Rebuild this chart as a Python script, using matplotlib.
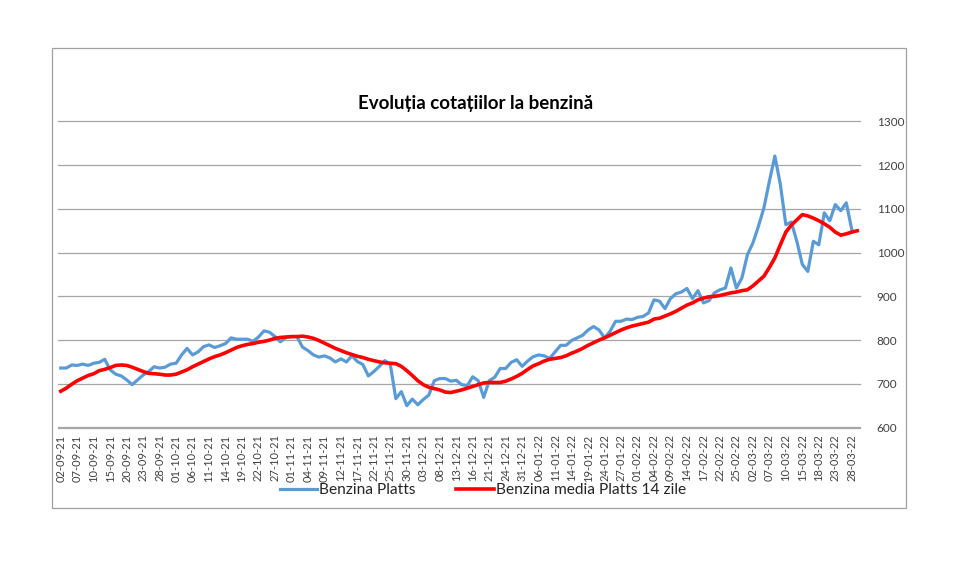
import numpy as np
import matplotlib
matplotlib.use("Agg")
import matplotlib.pyplot as plt
from matplotlib.patches import Rectangle

plt.rcParams['font.family'] = ['Lato', 'DejaVu Sans']

tick_labels = ["02-09-21", "07-09-21", "10-09-21", "15-09-21", "20-09-21", "23-09-21", "28-09-21",
               "01-10-21", "06-10-21", "11-10-21", "14-10-21", "19-10-21", "22-10-21", "27-10-21",
               "01-11-21", "04-11-21", "09-11-21", "12-11-21", "17-11-21", "22-11-21", "25-11-21",
               "30-11-21", "03-12-21", "08-12-21", "13-12-21", "16-12-21", "21-12-21", "24-12-21",
               "31-12-21", "06-01-22", "11-01-22", "14-01-22", "19-01-22", "24-01-22", "27-01-22",
               "01-02-22", "04-02-22", "09-02-22", "14-02-22", "17-02-22", "22-02-22", "25-02-22",
               "02-03-22", "07-03-22", "10-03-22", "15-03-22", "18-03-22", "23-03-22", "28-03-22"]

benzina_platts = [
    736, 736, 743, 742, 745, 742, 747, 749, 756, 732, 722, 718, 709, 698, 709, 720, 728, 739, 736, 738,
    745, 747, 766, 781, 766, 773, 785, 789, 783, 787, 792, 805, 802, 802, 802, 797, 807,
    821, 818, 808, 796, 806, 808, 808, 784, 776, 766, 761, 764, 759, 750, 757, 750, 764, 751, 744, 718,
    728, 740, 753, 744, 666, 682, 650, 665, 652, 664, 674, 707, 712, 712, 706, 708,
    698, 696, 716, 707, 669, 707, 715, 735, 735, 749, 755, 740, 752, 762, 766, 764, 758, 773, 788, 788,
    799, 805, 811, 823, 831, 823, 805, 820, 843, 843, 848, 847, 852, 854, 862, 892,
    889, 872, 895, 906, 910, 918, 895, 913, 885, 890, 908, 915, 919, 965, 919, 942, 995, 1022, 1060,
    1102, 1163, 1221, 1156, 1064, 1070, 1026, 973, 957, 1026, 1018, 1091, 1073, 1110, 1096, 1114, 1053]

benzina_media_14 = [
    683, 690, 699, 707, 713, 719, 723, 730, 733, 737, 742, 743, 742, 738, 733, 728, 724, 723, 722, 720,
    720, 722, 727, 732, 739, 745, 751, 757, 762, 766, 771, 777, 783, 787, 790, 792, 795,
    797, 800, 804, 806, 807, 808, 808, 809, 807, 804, 799, 793, 787, 781, 776, 771, 767, 763, 760, 756,
    753, 750, 748, 747, 746, 740, 730, 719, 707, 698, 692, 689, 686, 681, 680, 683,
    686, 690, 694, 698, 702, 703, 703, 703, 706, 711, 717, 724, 733, 741, 746, 752, 756, 758, 760, 764,
    770, 775, 781, 788, 794, 800, 805, 811, 817, 823, 828, 832, 835, 838, 841, 848,
    850, 855, 860, 866, 873, 880, 885, 892, 896, 899, 900, 902, 905, 908, 910, 913, 915, 924, 935, 946,
    966, 988, 1018, 1047, 1063, 1075, 1087, 1084, 1079, 1073, 1066, 1058, 1047, 1040, 1043, 1047, 1050]

W, H = 959, 568
fig = plt.figure(figsize=(W / 100, H / 100), dpi=100)
fig.patch.set_facecolor('white')

# outer chart border
fig.add_artist(Rectangle((52 / W, 1 - 508 / H), (906 - 52) / W, (508 - 48) / H,
                         transform=fig.transFigure, fill=False, edgecolor='#A0A0A0', linewidth=0.9))

ax = fig.add_axes([58 / W, 1 - 427.5 / H, (860 - 58) / W, 306 / H])

x_blue = np.arange(len(benzina_platts))
x_red = np.arange(len(benzina_media_14))
n_cat = len(benzina_media_14)

l1, = ax.plot(x_blue, benzina_platts, color='#5B9BD5', linewidth=2.3, solid_joinstyle='round',
              label='Benzina Platts', zorder=3)
l2, = ax.plot(x_red, benzina_media_14, color='#FF0000', linewidth=2.6, solid_joinstyle='round',
              label='Benzina media Platts 14 zile', zorder=4)

ax.set_xlim(-0.5, n_cat - 0.5)
ax.set_ylim(600, 1300)
ax.set_yticks(np.arange(600, 1301, 100))
ax.yaxis.tick_right()
ax.tick_params(axis='y', length=0, pad=12, labelsize=8.5, labelcolor='#404040')
ax.grid(axis='y', color='#A6A6A6', linewidth=0.9)
for gl in ax.get_ygridlines():
    gl.set_clip_on(False)
ax.set_axisbelow(True)

ax.set_xticks(np.arange(0, 3 * len(tick_labels), 3))
ax.set_xticklabels(tick_labels, rotation=90, fontsize=8, color='#404040')
ax.tick_params(axis='x', length=0, pad=5)

for s in ['top', 'left', 'right']:
    ax.spines[s].set_visible(False)
ax.spines['bottom'].set_color('#A6A6A6')
ax.spines['bottom'].set_linewidth(0.9)

fig.text(476 / W, 1 - 103 / H, 'Evoluția cotațiilor la benzină', ha='center', va='center',
         fontsize=13.5, fontweight='bold', color='#000000')

fig.legend(handles=[l1, l2], loc='center', bbox_to_anchor=(483 / W, 1 - 490 / H), ncol=2,
           frameon=False, fontsize=11.2, handlelength=2.4, handletextpad=0.15, columnspacing=2.6,
           labelcolor='#262626')

fig.savefig('out.png', dpi=100, facecolor='white')
